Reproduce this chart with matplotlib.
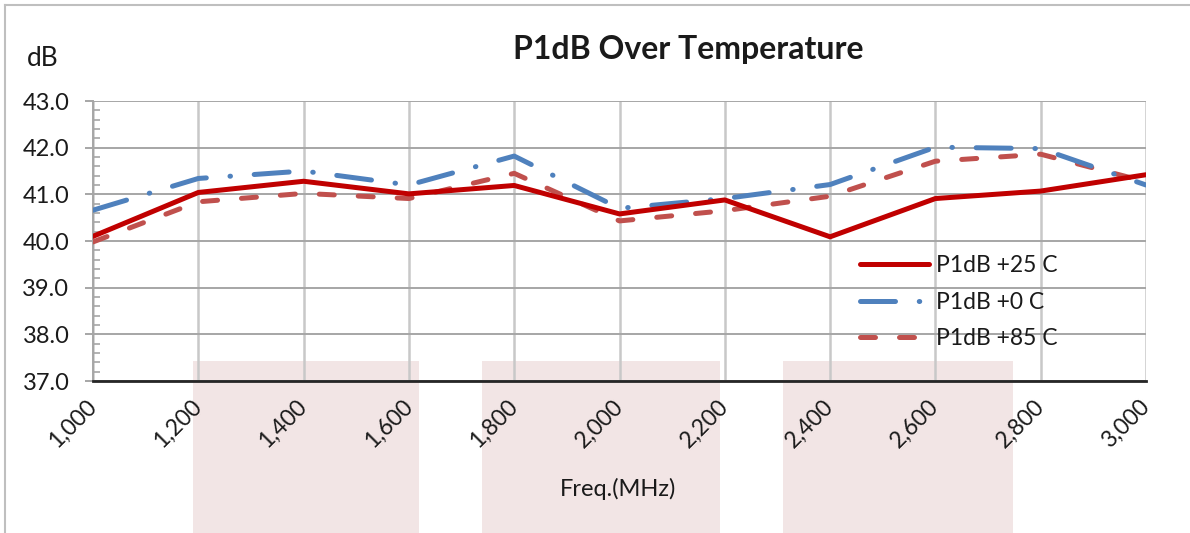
import matplotlib
matplotlib.use("Agg")
import matplotlib.pyplot as plt
from matplotlib.patches import Rectangle
from matplotlib.lines import Line2D
from matplotlib.ticker import MultipleLocator, FuncFormatter

plt.rcParams['font.family'] = ['Lato', 'DejaVu Sans']

# ---- data ----
freq_mhz = [1000, 1200, 1400, 1600, 1800, 2000, 2200, 2400, 2600, 2800, 3000]
p1db_25c = [40.10, 41.04, 41.28, 41.01, 41.19, 40.58, 40.88, 40.09, 40.91, 41.07, 41.42]
p1db_0c = [40.66, 41.34, 41.50, 41.20, 41.82, 40.70, 40.91, 41.21, 42.01, 41.98, 41.20]
p1db_85c = [39.98, 40.84, 41.02, 40.91, 41.45, 40.43, 40.65, 40.96, 41.71, 41.86, 41.27]
series_labels = ["P1dB +25 C", "P1dB +0 C", "P1dB +85 C"]
title_text = "P1dB Over Temperature"
y_unit = "dB"
x_title = "Freq.(MHz)"

W, H = 1190, 533
fig = plt.figure(figsize=(W / 100, H / 100), dpi=100)
fig.patch.set_facecolor('white')

def fx(px):
    return px / W

def fy(py):
    return 1 - py / H

# pink background blocks (behind the chart)
for (x0, x1) in [(193, 419), (482, 720), (783, 1013)]:
    fig.patches.append(Rectangle((fx(x0), 0), fx(x1) - fx(x0), fy(361), transform=fig.transFigure,
                                 facecolor='#F2E5E5', edgecolor='none', zorder=0))

# outer border (left and top)
fig.lines.append(Line2D([fx(5), fx(5)], [0, fy(5)], transform=fig.transFigure, color='#BFBFBF', lw=1.5, zorder=0))
fig.lines.append(Line2D([fx(5), 1], [fy(5), fy(5)], transform=fig.transFigure, color='#BFBFBF', lw=1.5, zorder=0))

ax = fig.add_axes([fx(93), fy(381), fx(1146) - fx(93), fy(101) - fy(381)])
ax.set_zorder(1)
ax.patch.set_visible(False)

lw = 3.6
ax.plot(freq_mhz, p1db_25c, color='#C00000', lw=lw, solid_capstyle='round', solid_joinstyle='round',
        label=series_labels[0], zorder=5)
ax.plot(freq_mhz, p1db_0c, color='#4F81BD', lw=lw, dashes=(7, 4.75, 0.1, 4.75), dash_capstyle='round',
        label=series_labels[1], zorder=4)
ax.plot(freq_mhz, p1db_85c, color='#C0504D', lw=lw, dashes=(3, 4.8), dash_capstyle='round',
        label=series_labels[2], zorder=3)

ax.set_xlim(1000, 3000)
ax.set_ylim(37, 43)
ax.set_xticks(freq_mhz)
ax.xaxis.set_major_formatter(FuncFormatter(lambda v, p: f"{int(v):,}"))
ax.yaxis.set_major_locator(MultipleLocator(1))
ax.yaxis.set_minor_locator(MultipleLocator(0.2))
ax.yaxis.set_major_formatter(FuncFormatter(lambda v, p: f"{v:.1f}"))

ax.grid(axis='y', which='major', color='#A6A6A6', lw=1.4)
ax.grid(axis='x', which='major', color='#C8C8C8', lw=1.8)
ax.set_axisbelow(True)

for s in ['top', 'right']:
    ax.spines[s].set_visible(False)
ax.spines['left'].set_color('#A6A6A6')
ax.spines['left'].set_linewidth(1.4)
ax.spines['bottom'].set_color('#262626')
ax.spines['bottom'].set_linewidth(2)
ax.spines['bottom'].set_zorder(6)

ax.tick_params(axis='y', which='major', direction='out', length=6, width=1.4, color='#A6A6A6',
               labelsize=17, labelcolor='#1a1a1a', pad=11)
ax.tick_params(axis='y', which='minor', direction='in', length=5, width=1.2, color='#A6A6A6')
ax.tick_params(axis='x', which='major', length=0, labelsize=16.5, labelcolor='#1a1a1a', pad=16)
for lab in ax.get_xticklabels():
    lab.set_rotation(45)
    lab.set_ha('right')
    lab.set_va('center')
    lab.set_rotation_mode('anchor')

fig.text(fx(688), fy(49), title_text, ha='center', va='center', fontsize=23, fontweight='bold', color='#1a1a1a')
fig.text(fx(27), fy(58), y_unit, ha='left', va='center', fontsize=19, color='#1a1a1a')
fig.text(fx(618), fy(489), x_title, ha='center', va='center', fontsize=17, color='#1a1a1a')

leg = ax.legend(loc='upper left', bbox_to_anchor=(fx(860), fy(255)), bbox_transform=fig.transFigure,
                frameon=False, fontsize=16.5, handlelength=3.0, handletextpad=0.3, labelspacing=0.68,
                borderaxespad=0, borderpad=0)
for t in leg.get_texts():
    t.set_color('#1a1a1a')

fig.savefig('out.png', dpi=100)
